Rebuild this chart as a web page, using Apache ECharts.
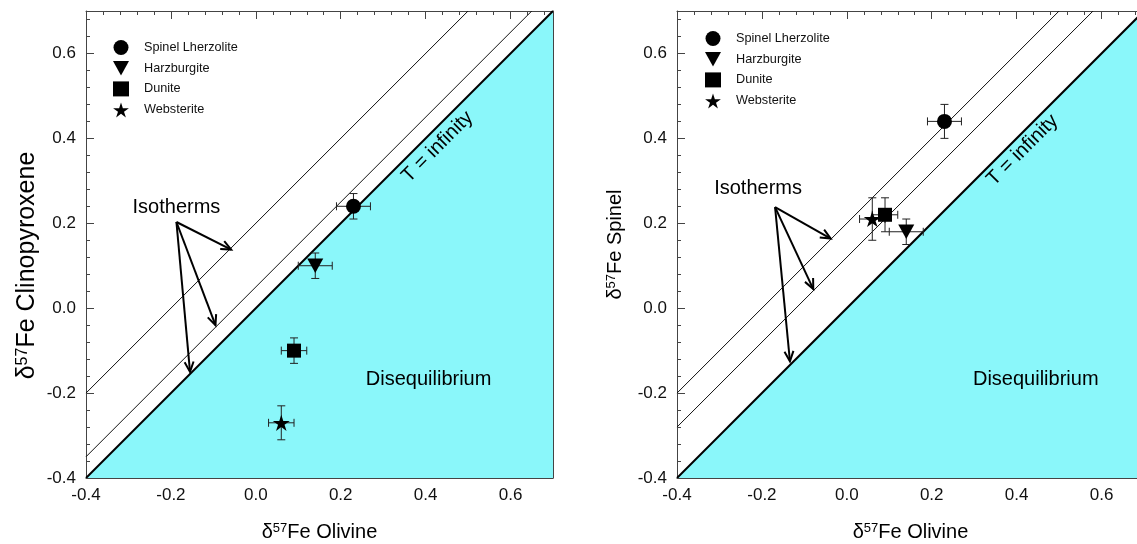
<!DOCTYPE html>
<html><head><meta charset="utf-8">
<script src="https://cdn.jsdelivr.net/npm/echarts@6/dist/echarts.min.js"></script>
<style>html,body{margin:0;padding:0;background:#fff}#c{width:1137px;height:544px}</style>
</head><body><div id="c"></div>
<script>
// ---------------- DATA ----------------
const rockTypes = ['Spinel Lherzolite', 'Harzburgite', 'Dunite', 'Websterite'];
const olivine = [0.23, 0.14, 0.09, 0.06];
const olivineErr = [0.04, 0.04, 0.03, 0.03];
const clinopyroxene = [0.24, 0.10, -0.10, -0.27];
const clinopyroxeneErr = [0.03, 0.03, 0.03, 0.04];
const spinel = [0.44, 0.18, 0.22, 0.21];
const spinelErr = [0.04, 0.03, 0.04, 0.05];
const axisMin = -0.4, axisMax = 0.7, majorStep = 0.2, minorStep = 0.04;
const equilibriumLine = [[-0.4, -0.4], [0.7, 0.7]];
const cpxIsotherms = [[[-0.4, -0.2], [0.5, 0.7]], [[-0.4, -0.35], [0.65, 0.7]]];
const spinelIsotherms = [[[-0.4, -0.2], [0.5, 0.7]], [[-0.4, -0.28], [0.58, 0.7]]];
const cpxArrows = [[-0.187, 0.203, -0.058, 0.138], [-0.187, 0.203, -0.095, -0.04], [-0.187, 0.203, -0.155, -0.15]];
const spinelArrows = [[-0.169, 0.238, -0.038, 0.164], [-0.169, 0.238, -0.079, 0.045], [-0.169, 0.238, -0.134, -0.125]];
const cpxNotes = [
  { text: 'Isotherms', at: [-0.187, 0.238], rot: 0 },
  { text: 'T = infinity', at: [0.428, 0.38], rot: 45 },
  { text: 'Disequilibrium', at: [0.407, -0.169], rot: 0 }
];
const spinelNotes = [
  { text: 'Isotherms', at: [-0.209, 0.281], rot: 0 },
  { text: 'T = infinity', at: [0.414, 0.372], rot: 45 },
  { text: 'Disequilibrium', at: [0.445, -0.168], rot: 0 }
];

// ---------------- STYLE ----------------
const FONT = 'Liberation Sans, Arial, Helvetica, sans-serif';
const CYAN = '#8AF7FA';
const AXIS_COLOR = '#444';
const STAR = 'path://M50 0 L61.23 34.55 L97.55 34.55 L68.17 55.9 L79.39 90.45 L50 69.1 L20.61 90.45 L31.83 55.9 L2.45 34.55 L38.77 34.55 Z';
const DOWN_TRI = 'path://M0 0 L100 0 L50 90 Z';
const symbols = [
  { symbol: 'circle', size: 15 },
  { symbol: DOWN_TRI, size: 16 },
  { symbol: 'rect', size: 14 },
  { symbol: STAR, size: 17 }
];

function nameRich(size) {
  return {
    a: { fontSize: size, fontFamily: FONT, color: '#000' },
    s: { fontSize: Math.round(size * 0.65), fontFamily: FONT, color: '#000', verticalAlign: 'top' }
  };
}

function makeAxes(g, yName, yNameSize, yNameGap, yNamePad) {
  const base = { gridIndex: g, type: 'value', min: axisMin, max: axisMax, splitLine: { show: false } };
  const line = { show: true, onZero: false, lineStyle: { color: AXIS_COLOR, width: 1 } };
  const noLine = { show: false, onZero: false };
  const xAxes = [
    Object.assign({}, base, {
      position: 'bottom', interval: majorStep, z: 5, axisLine: line, axisTick: { show: false },
      axisLabel: { show: true, fontSize: 17, fontFamily: FONT, color: '#111', margin: 9, showMaxLabel: false,
        formatter: v => v.toFixed(1) },
      name: '{a|δ}{s|57}{a|Fe Olivine}', nameLocation: 'middle', nameGap: 44,
      nameTextStyle: { rich: nameRich(20) }
    }),
    Object.assign({}, base, {
      position: 'top', interval: minorStep, axisLine: line,
      axisTick: { show: true, inside: true, length: 4, lineStyle: { color: AXIS_COLOR } }, axisLabel: { show: false }
    }),
    Object.assign({}, base, {
      position: 'top', interval: majorStep, axisLine: noLine,
      axisTick: { show: true, inside: true, length: 8, lineStyle: { color: AXIS_COLOR } }, axisLabel: { show: false }
    })
  ];
  const yAxes = [
    Object.assign({}, base, {
      position: 'left', interval: majorStep, axisLine: line,
      axisTick: { show: true, inside: true, length: 8, lineStyle: { color: AXIS_COLOR } },
      axisLabel: { show: true, fontSize: 17, fontFamily: FONT, color: '#111', margin: 10, showMaxLabel: false,
        formatter: v => v.toFixed(1) },
      name: yName, nameLocation: 'middle', nameGap: yNameGap,
      nameTextStyle: { rich: nameRich(yNameSize), padding: yNamePad }
    }),
    Object.assign({}, base, {
      position: 'left', interval: minorStep, axisLine: noLine,
      axisTick: { show: true, inside: true, length: 4, lineStyle: { color: AXIS_COLOR } }, axisLabel: { show: false }
    }),
    Object.assign({}, base, {
      position: 'right', z: 5, axisLine: line, axisTick: { show: false }, axisLabel: { show: false }
    })
  ];
  return { xAxes, yAxes };
}

function panelSeries(g, yValues, yErr, isotherms, arrows, notes) {
  const xi = g * 3, yi = g * 3;
  const out = [];
  out.push({
    type: 'line', xAxisIndex: xi, yAxisIndex: yi, data: equilibriumLine, symbol: 'none', silent: true, z: 1,
    lineStyle: { color: '#000', width: 2 }, areaStyle: { color: CYAN, opacity: 1, origin: 'start' }
  });
  isotherms.forEach(iso => out.push({
    type: 'line', xAxisIndex: xi, yAxisIndex: yi, data: iso, symbol: 'none', silent: true, z: 2,
    lineStyle: { color: '#111', width: 1 }
  }));
  out.push({
    type: 'custom', xAxisIndex: xi, yAxisIndex: yi, silent: true, z: 3,
    data: arrows,
    renderItem(params, api) {
      const p0 = api.coord([api.value(0), api.value(1)]);
      const p1 = api.coord([api.value(2), api.value(3)]);
      const ang = Math.atan2(p1[1] - p0[1], p1[0] - p0[0]);
      const len = 11, sp = 0.42;
      const a1 = [p1[0] - len * Math.cos(ang - sp), p1[1] - len * Math.sin(ang - sp)];
      const a2 = [p1[0] - len * Math.cos(ang + sp), p1[1] - len * Math.sin(ang + sp)];
      const st = { stroke: '#000', lineWidth: 2, fill: null };
      return { type: 'group', children: [
        { type: 'line', shape: { x1: p0[0], y1: p0[1], x2: p1[0], y2: p1[1] }, style: st },
        { type: 'polyline', shape: { points: [a1, p1, a2] }, style: st }
      ] };
    }
  });
  out.push({
    type: 'custom', xAxisIndex: xi, yAxisIndex: yi, silent: true, z: 4,
    data: notes.map(n => n.at),
    renderItem(params, api) {
      const p = api.coord([api.value(0), api.value(1)]);
      const n = notes[params.dataIndex];
      return { type: 'text', x: p[0], y: p[1], rotation: n.rot * Math.PI / 180,
        style: { text: n.text, fontSize: 20, fontFamily: FONT, fill: '#000', align: 'center', verticalAlign: 'middle' } };
    }
  });
  out.push({
    type: 'custom', xAxisIndex: xi, yAxisIndex: yi, silent: true, z: 5,
    data: olivine.map((x, i) => [x, yValues[i], olivineErr[i], yErr[i]]),
    renderItem(params, api) {
      const x = api.value(0), y = api.value(1), ex = api.value(2), ey = api.value(3);
      const l = api.coord([x - ex, y]), r = api.coord([x + ex, y]);
      const b = api.coord([x, y - ey]), t = api.coord([x, y + ey]);
      const c = 4, st = { stroke: '#222', lineWidth: 1 };
      return { type: 'group', children: [
        { type: 'line', shape: { x1: l[0], y1: l[1], x2: r[0], y2: r[1] }, style: st },
        { type: 'line', shape: { x1: l[0], y1: l[1] - c, x2: l[0], y2: l[1] + c }, style: st },
        { type: 'line', shape: { x1: r[0], y1: r[1] - c, x2: r[0], y2: r[1] + c }, style: st },
        { type: 'line', shape: { x1: b[0], y1: b[1], x2: t[0], y2: t[1] }, style: st },
        { type: 'line', shape: { x1: b[0] - c, y1: b[1], x2: b[0] + c, y2: b[1] }, style: st },
        { type: 'line', shape: { x1: t[0] - c, y1: t[1], x2: t[0] + c, y2: t[1] }, style: st }
      ] };
    }
  });
  rockTypes.forEach((name, i) => out.push({
    type: 'scatter', name, xAxisIndex: xi, yAxisIndex: yi, z: 6,
    symbol: symbols[i].symbol, symbolSize: symbols[i].size, symbolKeepAspect: true,
    itemStyle: { color: '#000', opacity: 1 },
    data: [[olivine[i], yValues[i]]]
  }));
  return out;
}

const A0 = makeAxes(0, '{a|δ}{s|57}{a|Fe Clinopyroxene}', 25, 46, [0, 42, 0, 0]);
const A1 = makeAxes(1, '{a|δ}{s|57}{a|Fe Spinel}', 20, 52, 0);

const legendBase = {
  orient: 'vertical', data: rockTypes, itemWidth: 16, itemHeight: 15, itemGap: 6, padding: 0,
  selectedMode: false,
  textStyle: { fontSize: 12.7, fontFamily: FONT, color: '#111', padding: [0, 0, 0, 10] }
};

const option = {
  animation: false,
  backgroundColor: '#fff',
  grid: [
    { left: 86, top: 11, width: 467, height: 467, outerBoundsMode: 'none' },
    { left: 677, top: 11, width: 467, height: 467, outerBoundsMode: 'none' }
  ],
  legend: [
    Object.assign({}, legendBase, { left: 113, top: 40 }),
    Object.assign({}, legendBase, { left: 705, top: 31 })
  ],
  xAxis: A0.xAxes.concat(A1.xAxes),
  yAxis: A0.yAxes.concat(A1.yAxes),
  series: panelSeries(0, clinopyroxene, clinopyroxeneErr, cpxIsotherms, cpxArrows, cpxNotes)
    .concat(panelSeries(1, spinel, spinelErr, spinelIsotherms, spinelArrows, spinelNotes))
};
const chart = echarts.init(document.getElementById('c'), null, { renderer: 'canvas' });
chart.setOption(option);
</script>
</body></html>
